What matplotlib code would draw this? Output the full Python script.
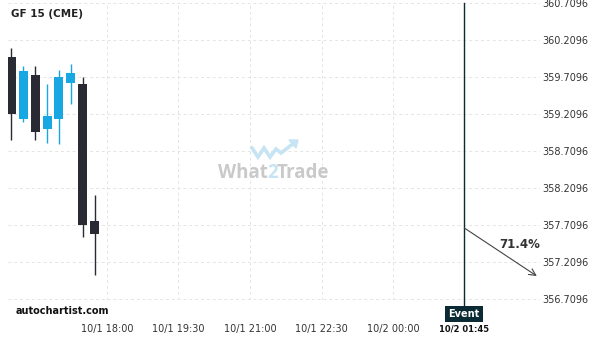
import numpy as np
import matplotlib
matplotlib.use("Agg")
import matplotlib.pyplot as plt
import matplotlib.dates as mdates
import pandas as pd

# 15 minute candles, GF 15 (CME)
times = pd.date_range("2015-10-01 16:00", periods=8, freq="15min")
opens = [359.980, 359.142, 359.737, 359.007, 359.142, 359.628, 359.615, 357.768]
highs = [360.098, 359.858, 359.858, 359.615, 359.804, 359.885, 359.706, 358.115]
lows = [358.854, 359.106, 358.854, 358.822, 358.808, 359.349, 357.552, 357.030]
closes = [359.214, 359.795, 358.966, 359.183, 359.710, 359.768, 357.710, 357.588]

yticks = [356.7096, 357.2096, 357.7096, 358.2096, 358.7096, 359.2096, 359.7096, 360.2096, 360.7096]
xticks = pd.to_datetime(["2015-10-01 18:00", "2015-10-01 19:30", "2015-10-01 21:00",
                         "2015-10-01 22:30", "2015-10-02 00:00"])
event_time = pd.Timestamp("2015-10-02 01:29")
event_label = "10/2 01:45"
arrow_start = (event_time, 357.669)
arrow_end = (pd.Timestamp("2015-10-02 03:00"), 357.02)
prob_text = "71.4%"

up_col = "#17a8e3"
down_col = "#2a2a35"

W, H = 600, 340
fig = plt.figure(figsize=(6, 3.4), dpi=100)
ax = fig.add_axes([8 / W, 1 - 300 / H, 532 / W, 297 / H])

def px(x, y):
    return x / W, 1 - y / H

width = 11.3 / 1440
for t, o, h, l, c in zip(times, opens, highs, lows, closes):
    col = up_col if c >= o else down_col
    x = mdates.date2num(t)
    ax.vlines(x, l, h, color=col, lw=1.0, zorder=3)
    ax.bar(x, abs(c - o), bottom=min(o, c), width=width, color=col, zorder=4)

ax.set_xlim(mdates.date2num(pd.Timestamp("2015-10-01 15:56")),
            mdates.date2num(pd.Timestamp("2015-10-02 03:04")))
ax.set_ylim(356.6961, 360.7096)

ax.set_yticks(yticks)
ax.yaxis.tick_right()
ax.set_yticklabels(["%.4f" % v for v in yticks])
ax.set_xticks(mdates.date2num(xticks))
ax.set_xticklabels([t.strftime("%-m/%-d %H:%M") for t in xticks])
ax.tick_params(length=0, labelsize=7, colors="#333333", pad=2)
ax.tick_params(axis="x", pad=17)
ax.grid(True, color="#e4e4e4", ls=(0, (3, 3)), lw=0.7)
for s in ax.spines.values():
    s.set_visible(False)

# event line + marker
ex = mdates.date2num(event_time)
ax.axvline(ex, ymin=-0.03, ymax=1.0, color="#0b2a33", lw=1.0, clip_on=False, zorder=5)
ax.annotate("", xy=(mdates.date2num(arrow_end[0]), arrow_end[1]),
            xytext=(ex, arrow_start[1]),
            arrowprops=dict(arrowstyle="->", color="#444444", lw=0.8,
                            shrinkA=0, shrinkB=0, mutation_scale=12), zorder=6)
fig.text(*px(520, 245), prob_text, fontsize=8.5, fontweight="bold", color="#333333",
         ha="center", va="center")

fig.text(*px(464, 314), "Event", fontsize=7, fontweight="bold", color="white",
         ha="center", va="center",
         bbox=dict(boxstyle="square,pad=0.3", fc="#0b2a33", ec="none"))
fig.text(*px(464, 329), event_label, fontsize=6, fontweight="bold", color="#111111",
         ha="center", va="center")

fig.text(*px(11, 14), "GF 15 (CME)", fontsize=7.5, fontweight="bold", color="#222222",
         ha="left", va="center")
fig.text(*px(16, 311), "autochartist.com", fontsize=7, fontweight="bold", color="#111111",
         ha="left", va="center")

# watermark, pieces placed side by side
renderer = fig.canvas.get_renderer()
x0 = 218
for part, col in [("What", "#c9c9c9"), ("2", "#c6e4f3"), ("Trade", "#c9c9c9")]:
    t = fig.text(*px(x0, 173), part, fontsize=13.5, fontweight="bold", color=col,
                 family="Open Sans", ha="left", va="center")
    x0 += t.get_window_extent(renderer).width - 1
lx = [252, 258, 264, 270, 276, 281, 294]
ly = [148, 157, 148, 157, 149, 153, 143]
fig.add_artist(plt.Line2D([x / W for x in lx], [1 - y / H for y in ly],
                          color="#c6e4f3", lw=2.6, transform=fig.transFigure,
                          solid_joinstyle="miter"))
fig.add_artist(plt.Polygon([px(298, 140), px(289, 140), px(296, 148)], closed=True,
                           color="#c6e4f3", transform=fig.transFigure))

fig.savefig("out.png", dpi=100)
